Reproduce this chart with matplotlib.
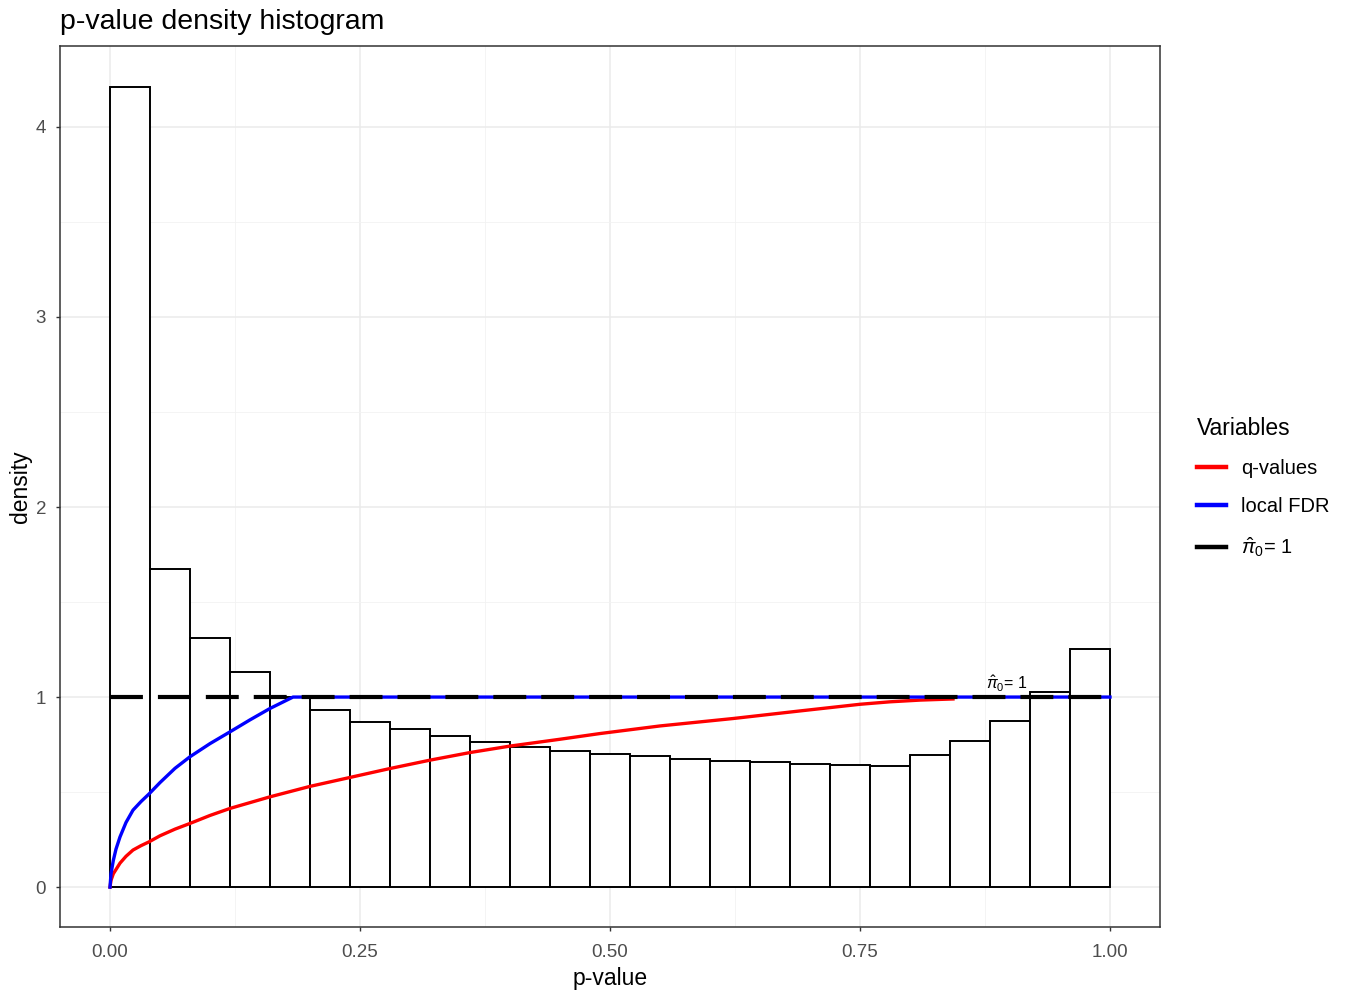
import numpy as np
import matplotlib
matplotlib.use("Agg")
import matplotlib.pyplot as plt
from matplotlib.lines import Line2D
from matplotlib.ticker import MultipleLocator

plt.rcParams['font.family'] = ['Liberation Sans', 'DejaVu Sans']
plt.rcParams['mathtext.fontset'] = 'custom'
plt.rcParams['mathtext.rm'] = 'Liberation Sans'
plt.rcParams['mathtext.it'] = 'Liberation Sans:italic'

# histogram: 25 bins of width 0.04 on [0, 1]
bin_edges = np.linspace(0, 1, 26)
density = [4.21, 1.675, 1.31, 1.13, 1.0, 0.93, 0.87, 0.83, 0.795, 0.762,
           0.735, 0.717, 0.698, 0.691, 0.675, 0.664, 0.656, 0.649, 0.64, 0.638,
           0.693, 0.767, 0.872, 1.025, 1.254]

# q-value curve
q_p = [0.0, 0.001, 0.0033, 0.01, 0.016, 0.023, 0.031, 0.039, 0.05, 0.065,
       0.08, 0.10, 0.12, 0.16, 0.20, 0.24, 0.28, 0.32, 0.36, 0.40, 0.45, 0.49,
       0.55, 0.623, 0.69, 0.75, 0.78, 0.81, 0.843]
q_val = [0.0, 0.035, 0.07, 0.126, 0.162, 0.195, 0.218, 0.238, 0.27, 0.305,
         0.335, 0.377, 0.414, 0.475, 0.53, 0.577, 0.624, 0.668, 0.708, 0.742,
         0.778, 0.808, 0.848, 0.887, 0.927, 0.962, 0.975, 0.984, 0.99]

# local FDR curve
lfdr_p = [0.0, 0.001, 0.0033, 0.006, 0.01, 0.016, 0.023, 0.031, 0.039, 0.05,
          0.065, 0.08, 0.10, 0.12, 0.14, 0.16, 0.183, 1.0]
lfdr_val = [0.0, 0.07, 0.14, 0.2, 0.264, 0.34, 0.405, 0.45, 0.49, 0.55,
            0.625, 0.686, 0.755, 0.817, 0.88, 0.94, 1.0, 1.0]

# pi0 estimate
pi0_x = [0.0, 1.0]
pi0_y = [1.0, 1.0]

W, H = 1351, 994
fig = plt.figure(figsize=(W / 100, H / 100), dpi=100)
ax = fig.add_axes([60 / W, 1 - 927 / H, 1100 / W, 881 / H])

ax.bar(bin_edges[:-1], density, width=np.diff(bin_edges), align='edge',
       facecolor='white', edgecolor='black', linewidth=1.4, zorder=2)

ax.plot(q_p, q_val, color='#FF0000', lw=2.4, zorder=3)
ax.plot(lfdr_p, lfdr_val, color='#0000FF', lw=2.4, zorder=3)
ax.plot(pi0_x, pi0_y, color='black', lw=3, dashes=(7.9, 3.6), zorder=4)

ax.text(0.876, 1.015, r'$\hat{\pi}_0$= 1', fontsize=11.5, ha='left', va='bottom', zorder=5)

ax.set_xlim(-0.05, 1.05)
ax.set_ylim(-0.21, 4.426)
ax.xaxis.set_major_locator(MultipleLocator(0.25))
ax.xaxis.set_minor_locator(MultipleLocator(0.125))
ax.yaxis.set_major_locator(MultipleLocator(1))
ax.yaxis.set_minor_locator(MultipleLocator(0.5))
ax.xaxis.set_major_formatter(plt.FuncFormatter(lambda v, p: f'{v:.2f}'))
ax.yaxis.set_major_formatter(plt.FuncFormatter(lambda v, p: f'{v:.0f}'))

ax.grid(which='major', color='#EBEBEB', lw=1.1, zorder=0)
ax.grid(which='minor', color='#F2F2F2', lw=0.6, zorder=0)
ax.set_axisbelow(True)
ax.tick_params(which='major', length=3, width=1, color='#333333',
               labelcolor='#4D4D4D', labelsize=13.5)
ax.tick_params(axis='x', pad=9)
ax.tick_params(axis='y', pad=7)
ax.tick_params(which='minor', length=0)
for s in ax.spines.values():
    s.set_color('#333333')
    s.set_linewidth(1.1)

ax.set_xlabel('p-value', fontsize=16.5, va='center')
ax.xaxis.set_label_coords(0.5, (927 - 978) / 881)
ax.set_ylabel('density', fontsize=16.5, va='center')
ax.yaxis.set_label_coords((20 - 60) / 1100, 0.5)

fig.text(60 / W, 1 - 22 / H, 'p-value density histogram', fontsize=20.5,
         ha='left', va='center')

handles = [Line2D([], [], color='#FF0000', lw=3.2),
           Line2D([], [], color='#0000FF', lw=3.2),
           Line2D([], [], color='black', lw=3.2)]
labels = ['q-values', 'local FDR', r'$\hat{\pi}_0$= 1']
leg = fig.legend(handles, labels, title='Variables', loc='upper left',
                 bbox_to_anchor=(1197 / W, 1 - 417 / H), frameon=False,
                 fontsize=14.5, title_fontsize=16.5, handlelength=1.45,
                 handletextpad=0.75, labelspacing=0.95, borderaxespad=0,
                 borderpad=0)
leg._legend_box.align = 'left'

fig.savefig('out.png', dpi=100)
